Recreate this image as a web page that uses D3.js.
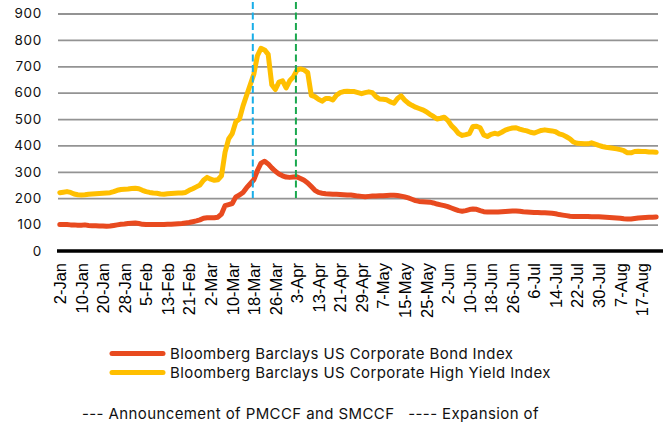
<!DOCTYPE html>
<html>
<head>
<meta charset="utf-8">
<script src="https://cdn.jsdelivr.net/npm/d3@7"></script>
<style>
  body { margin: 0; background: #fff; }
  svg { display: block; }
</style>
</head>
<body>
<div id="chart"></div>
<script>
// trading days (all weekdays) from 2-Jan-2020, 167 of them
const startDate = new Date(2020, 0, 2);
const dates = d3.timeDay.range(startDate, new Date(2020, 7, 22))
  .filter(d => d.getDay() !== 0 && d.getDay() !== 6);

// one label every 6 days on the category axis
const tickLabels = ["2-Jan","10-Jan","20-Jan","28-Jan","5-Feb","13-Feb","21-Feb","2-Mar",
  "10-Mar","18-Mar","26-Mar","3-Apr","13-Apr","21-Apr","29-Apr","7-May","15-May","25-May",
  "2-Jun","10-Jun","18-Jun","26-Jun","6-Jul","14-Jul","22-Jul","30-Jul","7-Aug","17-Aug"];

const yTicks = [0, 100, 200, 300, 400, 500, 600, 700, 800, 900];

// Bloomberg Barclays US Corporate Bond Index (spread, bp)
const corpBond = [100,100,100,99,99,98,98,99,97,96,96,95,95,94,95,97,99,101,102,104,
  105,106,104,101,100,100,100,100,100,100,101,101,102,103,104,106,108,111,114,118,
  124,126,126,126,128,140,172,176,180,205,212,222,240,255,270,305,333,340,330,315,
  302,292,285,280,279,280,281,275,268,258,244,230,222,219,217,216,215,215,214,213,
  212,212,210,208,207,206,207,208,208,209,209,210,211,211,210,208,205,201,196,191,
  188,187,186,185,182,178,175,172,168,163,158,153,151,153,157,159,158,153,149,148,
  148,148,148,149,150,151,152,152,151,149,148,147,146,146,145,145,144,143,141,138,
  136,134,132,131,131,131,131,131,130,130,130,129,128,127,126,125,124,122,121,121,
  123,125,126,127,128,128,129];

// Bloomberg Barclays US Corporate High Yield Index (spread, bp)
const highYield = [221,223,225,222,216,213,212,213,215,216,217,218,219,220,221,225,230,233,234,235,
  237,238,236,230,225,222,220,219,216,215,217,218,219,220,220,222,230,236,243,250,
  268,279,272,268,270,285,375,425,445,490,500,550,590,630,670,740,768,762,745,630,
  612,640,645,618,645,660,685,690,686,676,590,585,575,568,578,578,572,590,600,604,
  605,604,604,600,596,600,603,600,585,576,575,573,565,560,578,588,572,560,552,545,
  540,535,528,518,510,500,503,507,495,475,462,445,438,441,445,472,473,467,440,434,
  442,446,443,450,458,463,466,467,462,458,455,450,447,452,457,459,457,455,452,444,
  440,433,425,413,408,407,406,406,410,405,400,396,393,391,389,387,384,380,372,372,
  377,378,377,377,375,375,374];

const seriesNames = ["Bloomberg Barclays US Corporate Bond Index",
  "Bloomberg Barclays US Corporate High Yield Index"];
const seriesColors = ["#e84a1f", "#ffbf00"];

// vertical markers: announcement of PMCCF/SMCCF, expansion
const markerIdx = [54, 66];
const markerColors = ["#19aee8", "#1aa84e"];

const width = 663, height = 434;
const plotLeft = 58, plotRight = 658, plotTop = 13.5, plotBottom = 251;

const svg = d3.select("#chart").append("svg")
  .attr("width", width)
  .attr("height", height);

const x = d3.scalePoint()
  .domain(d3.range(dates.length))
  .range([plotLeft, plotRight])
  .padding(0.5);

const y = d3.scaleLinear()
  .domain([0, 900])
  .range([plotBottom, plotTop]);

// gridlines + y labels
const yAxis = svg.append("g")
  .attr("transform", "translate(" + plotLeft + ",0)")
  .call(d3.axisLeft(y).tickValues(yTicks).tickSize(-(plotRight - plotLeft)).tickPadding(16));
yAxis.select(".domain").remove();
yAxis.selectAll(".tick line")
  .attr("stroke", "#939393")
  .attr("stroke-width", 1.8);
yAxis.selectAll(".tick text")
  .attr("fill", "#111")
  .style("font-family", "Inter, 'Noto Sans', sans-serif")
  .style("font-size", "13.5px")
  .style("letter-spacing", "0.7px");
yAxis.selectAll(".tick").filter(d => d === 0).select("line").remove();

// x labels
const xAxis = svg.append("g")
  .attr("transform", "translate(0," + plotBottom + ")")
  .call(d3.axisBottom(x)
    .tickValues(d3.range(0, dates.length, 6))
    .tickSize(0)
    .tickFormat((d, i) => tickLabels[i]));
xAxis.select(".domain").remove();
xAxis.selectAll(".tick text")
  .attr("transform", "rotate(-90)")
  .attr("x", -12)
  .attr("y", 0)
  .attr("dy", "0.35em")
  .attr("text-anchor", "end")
  .attr("fill", "#000")
  .style("font-family", "'Liberation Sans', Arial, sans-serif")
  .style("font-size", "16.5px");

// zero axis
svg.append("line")
  .attr("x1", plotLeft - 1).attr("x2", width)
  .attr("y1", y(0)).attr("y2", y(0))
  .attr("stroke", "#000")
  .attr("stroke-width", 3.5);

// series lines
const line = data => d3.line()
  .x((d, i) => x(i))
  .y(d => y(d))(data);

[corpBond, highYield].forEach((s, k) => {
  svg.append("path")
    .attr("d", line(s))
    .attr("fill", "none")
    .attr("stroke", seriesColors[k])
    .attr("stroke-width", 5)
    .attr("stroke-linejoin", "round")
    .attr("stroke-linecap", "round");
});

// dashed markers
markerIdx.forEach((m, k) => {
  svg.append("line")
    .attr("x1", x(m) - 1).attr("x2", x(m) - 1)
    .attr("y1", 2).attr("y2", y(200))
    .attr("stroke", markerColors[k])
    .attr("stroke-width", 2)
    .attr("stroke-dasharray", "7,3.5");
});

// legend
const legend = svg.append("g");
seriesNames.forEach((name, k) => {
  const ly = 353.5 + k * 19;
  legend.append("line")
    .attr("x1", 112).attr("x2", 163)
    .attr("y1", ly).attr("y2", ly)
    .attr("stroke", seriesColors[k])
    .attr("stroke-width", 5)
    .attr("stroke-linecap", "round");
  legend.append("text")
    .attr("x", 170)
    .attr("y", ly + 5.5)
    .attr("fill", "#111")
    .style("font-family", "Inter, 'Noto Sans', sans-serif")
    .style("font-size", "15px")
    .style("letter-spacing", "0.4px")
    .text(name);
});

svg.append("text")
  .attr("x", 82)
  .attr("y", 419)
  .attr("fill", "#111")
  .style("font-family", "Inter, 'Noto Sans', sans-serif")
  .style("font-size", "15px")
  .style("letter-spacing", "0.4px")
  .style("white-space", "pre")
  .attr("xml:space", "preserve")
  .text("--- Announcement of PMCCF and SMCCF   ---- Expansion of");
</script>
</body>
</html>
